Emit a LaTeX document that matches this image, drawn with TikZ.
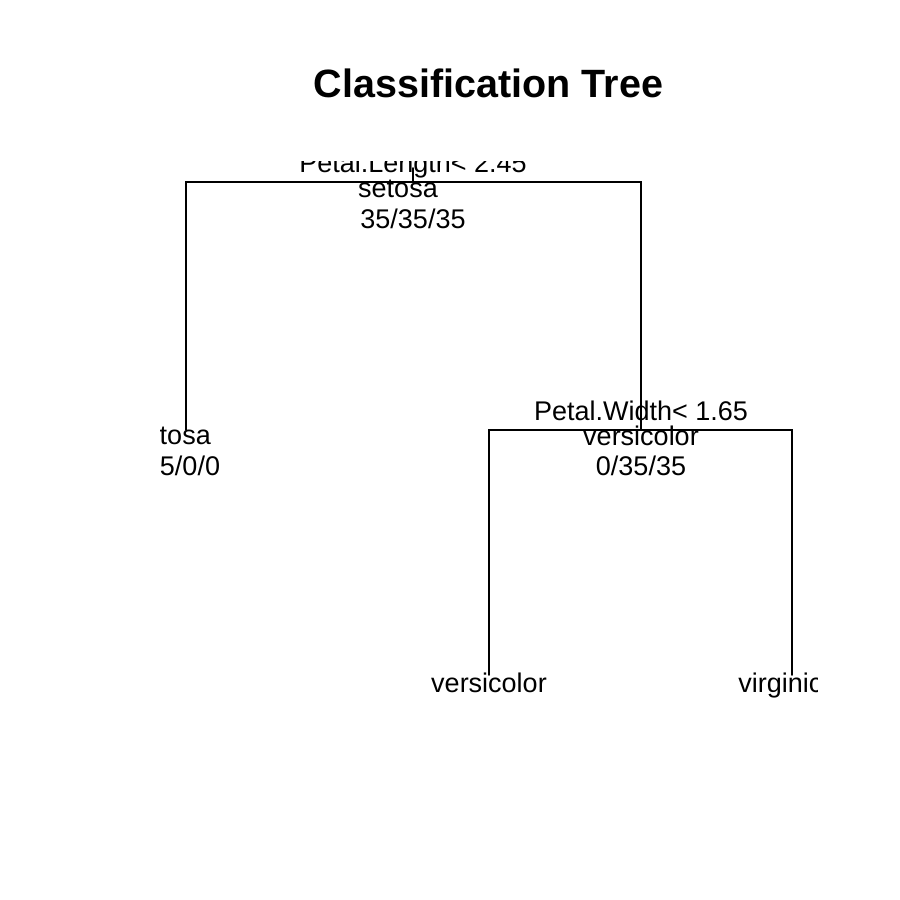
\documentclass[tikz,border=0pt]{standalone}
\usepackage{fontspec}
\setmainfont{Liberation Sans}
\begin{document}
\begin{tikzpicture}[x=1pt,y=-1pt,
  edge/.style={line width=1.7pt,line cap=round,line join=miter},
  lab/.style={anchor=base,inner sep=0pt,outer sep=0pt,font=\fontsize{27}{32}\selectfont},
  ttl/.style={anchor=base,inner sep=0pt,font=\bfseries\fontsize{39.5}{46}\selectfont}]
\useasboundingbox[fill=white] (0,0) rectangle (900,900);
\node[ttl] (title) at (488.5,97) {Classification Tree};
\begin{scope}
\clip (160,161) rectangle (817,700);
% tree coordinates
\coordinate (roottop) at (413,168);
\coordinate (root) at (413,182);
\coordinate (n2) at (186,430);
\coordinate (n3) at (641,430);
\coordinate (n6) at (489,675);
\coordinate (n7) at (792,675);
% connectors
\draw[edge] (roottop) -- (root);
\draw[edge] (root) -| (n2);
\draw[edge] (root) -| (n3);
\draw[edge] (n3) -| (n6);
\draw[edge] (n3) -| (n7);
% labels
\node[lab] (s1) at (413,172) {Petal.Length< 2.45};
\node[lab] (c1) at (398,197) {setosa};
\node[lab] (k1) at (413,228) {35/35/35};
\node[lab] (c2) at (171,444) {setosa};
\node[lab] (k2) at (182.5,475) {35/0/0};
\node[lab] (s3) at (641,420) {Petal.Width< 1.65};
\node[lab] (c3) at (641,445) {versicolor};
\node[lab] (k3) at (641,475) {0/35/35};
\node[lab] (c6) at (489,692) {versicolor};
\node[lab] (c7) at (788,692) {virginica};
\end{scope}
\end{tikzpicture}
\end{document}
